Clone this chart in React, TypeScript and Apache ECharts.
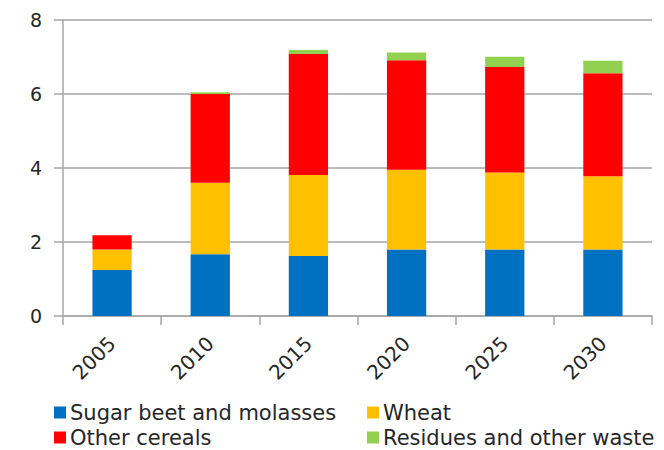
import React, { useEffect, useRef } from "react";
import * as echarts from "echarts";

const years = ["2005", "2010", "2015", "2020", "2025", "2030"];
const sugarBeet = [1.24, 1.67, 1.62, 1.8, 1.8, 1.8];
const wheat = [0.56, 1.93, 2.19, 2.15, 2.08, 1.98];
const otherCereals = [0.38, 2.4, 3.27, 2.96, 2.85, 2.78];
const residues = [0, 0.05, 0.11, 0.21, 0.28, 0.34];
const yTicks = [0, 2, 4, 6, 8];

const FONT = "DejaVu Sans";
const TEXT = "#262626";
const AXIS = "#a6a6a6";

export default function App() {
  const ref = useRef<HTMLDivElement>(null);
  useEffect(() => {
    if (!ref.current) return;
    const chart = echarts.init(ref.current, undefined, { renderer: "svg" });
    const mk = (name: string, data: number[], color: string) => ({
      name,
      type: "bar",
      stack: "total",
      data,
      barWidth: "40%",
      itemStyle: { color },
      emphasis: { disabled: true },
    });
    const leg = (name: string, left: number, top: number) => ({
      data: [name],
      left,
      top,
      itemWidth: 12,
      itemHeight: 12,
      icon: "rect",
      padding: 0,
      textStyle: {
        fontSize: 21,
        lineHeight: 20,
        color: TEXT,
        fontFamily: FONT,
        padding: [0, 0, 0, -1],
      },
    });
    chart.setOption({
      animation: false,
      textStyle: { fontFamily: FONT },
      grid: { left: 63, right: 12, top: 20, bottom: 134, containLabel: false },
      xAxis: {
        type: "category",
        data: years,
        axisLine: { show: true, lineStyle: { color: AXIS, width: 1.5 } },
        axisTick: { show: true, length: 9, lineStyle: { color: AXIS, width: 1.5 } },
        axisLabel: {
          rotate: 45,
          fontSize: 20,
          color: TEXT,
          fontFamily: FONT,
          margin: 24,
        },
      },
      yAxis: {
        type: "value",
        min: yTicks[0],
        max: yTicks[yTicks.length - 1],
        interval: 2,
        axisLine: { show: true, lineStyle: { color: AXIS, width: 1.5 } },
        axisTick: { show: true, length: 9, lineStyle: { color: AXIS, width: 1.5 } },
        splitLine: { show: true, lineStyle: { color: AXIS, width: 1.5 } },
        axisLabel: { fontSize: 19, color: TEXT, fontFamily: FONT, margin: 21 },
      },
      legend: [
        leg("Sugar beet and molasses", 54, 402),
        leg("Other cereals", 54, 427),
        leg("Wheat", 367, 402),
        leg("Residues and other waste", 367, 427),
      ],
      series: [
        mk("Sugar beet and molasses", sugarBeet, "#0070C0"),
        mk("Wheat", wheat, "#FFC000"),
        mk("Other cereals", otherCereals, "#FF0000"),
        mk("Residues and other waste", residues, "#92D050"),
      ],
    });
    return () => chart.dispose();
  }, []);
  return (
    <div
      ref={ref}
      style={{ position: "absolute", left: 0, top: 0, width: 664, height: 450 }}
    />
  );
}
